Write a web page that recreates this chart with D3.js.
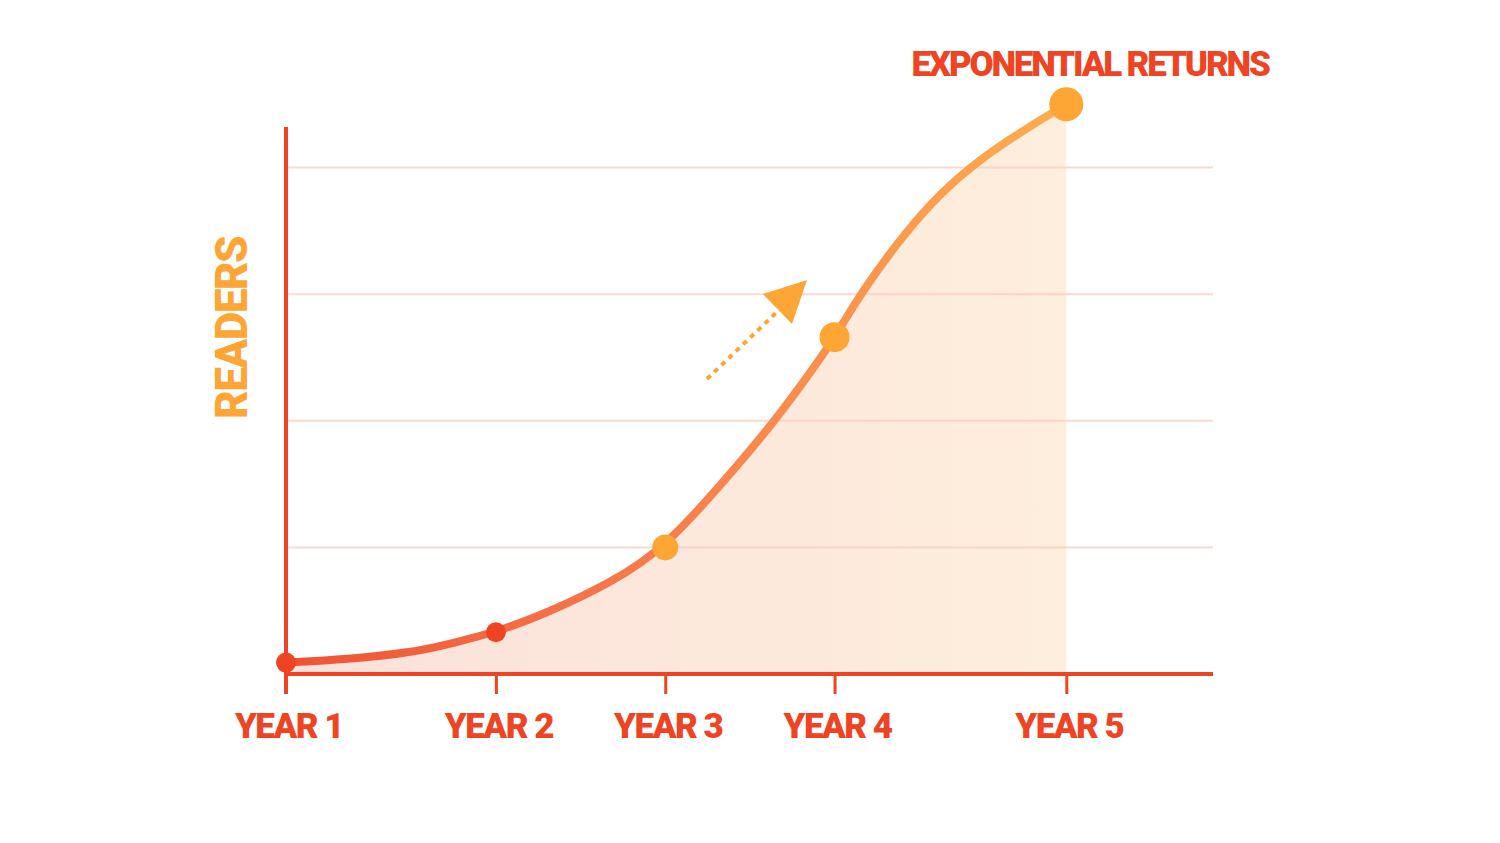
<!DOCTYPE html>
<html>
<head>
<meta charset="utf-8">
<script src="https://cdn.jsdelivr.net/npm/d3@7"></script>
<style>
  html, body { margin: 0; padding: 0; background: #fff; }
  svg text { font-family: Roboto, "Liberation Sans", sans-serif; font-weight: 900; }
</style>
</head>
<body>
<div class="chart"></div>
<script>
// data
const categories = ['YEAR 1', 'YEAR 2', 'YEAR 3', 'YEAR 4', 'YEAR 5'];
const xValues = [0, 2.69, 4.86, 7.03, 10];
const readers = [0.09, 0.33, 1.0, 2.66, 4.5];
const dotSizes = [10, 10, 13, 15, 17];
// the drawn curve, read at more places along the line
const curveX = [0, 0.78, 1.63, 2.14, 2.69, 3.35, 4.19, 4.86, 5.63, 6.27, 6.81, 7.03, 7.40, 7.83, 8.26, 8.77, 9.32, 10];
const curveY = [0.09, 0.115, 0.17, 0.245, 0.33, 0.482, 0.727, 1.0, 1.534, 2.0, 2.458, 2.66, 3.036, 3.40, 3.72, 4.008, 4.245, 4.5];
const gridValues = [1, 2, 3, 4];

const width = 1500, height = 843;
const red = '#ef4423', orange = '#fda535';

const svg = d3.select('.chart').append('svg')
  .attr('width', width)
  .attr('height', height);

const x = d3.scaleLinear().domain([0, 11.88]).range([286, 1213]);
const y = d3.scaleLinear().domain([0, 4.32]).range([674, 127]);

const points = categories.map((c, i) => ({ cat: c, x: xValues[i], v: readers[i], r: dotSizes[i] }));
const curve = curveX.map((cx, i) => ({ x: cx, v: curveY[i] }));

let defs = svg.append('defs');
let lg = defs.append('linearGradient').attr('id', 'lineGrad')
  .attr('gradientUnits', 'userSpaceOnUse')
  .attr('x1', x(0)).attr('x2', x(10)).attr('y1', 0).attr('y2', 0);
lg.append('stop').attr('offset', '0%').attr('stop-color', '#ef5233');
lg.append('stop').attr('offset', '45%').attr('stop-color', '#f57a4c');
lg.append('stop').attr('offset', '100%').attr('stop-color', '#fdae4e');

let ag = defs.append('linearGradient').attr('id', 'areaGrad')
  .attr('gradientUnits', 'userSpaceOnUse')
  .attr('x1', x(0)).attr('x2', x(10)).attr('y1', 0).attr('y2', 0);
ag.append('stop').attr('offset', '0%').attr('stop-color', '#fbe0da');
ag.append('stop').attr('offset', '100%').attr('stop-color', '#feeedd');

// area under the curve
const area = d3.area()
  .x(d => x(d.x))
  .y0(y(0))
  .y1(d => y(d.v))
  .curve(d3.curveBasis);

svg.append('path')
  .datum(curve)
  .attr('d', area)
  .attr('fill', 'url(#areaGrad)');

// gridlines
svg.selectAll('.grid')
  .data(gridValues)
  .enter()
  .append('line')
  .attr('x1', x(0)).attr('x2', x(11.88))
  .attr('y1', d => y(d)).attr('y2', d => y(d))
  .attr('stroke', '#f9c9bf')
  .attr('stroke-opacity', 0.7)
  .attr('stroke-width', 2);

// axes
const xAxis = d3.axisBottom(x)
  .tickValues(xValues)
  .tickSize(20)
  .tickFormat('');

let gx = svg.append('g')
  .attr('transform', `translate(0,${y(0)})`)
  .call(xAxis);
gx.select('.domain').remove();
gx.selectAll('.tick line').attr('stroke', red).attr('stroke-width', 3);

svg.append('line')
  .attr('x1', x(0) - 1.5).attr('x2', x(11.88))
  .attr('y1', y(0)).attr('y2', y(0))
  .attr('stroke', red).attr('stroke-width', 4);

svg.append('line')
  .attr('x1', x(0)).attr('x2', x(0))
  .attr('y1', y(4.32)).attr('y2', y(0) + 20)
  .attr('stroke', red).attr('stroke-width', 4);

svg.selectAll('.xlabel')
  .data(points)
  .enter()
  .append('text')
  .attr('x', d => x(d.x) + 3)
  .attr('y', 738)
  .attr('text-anchor', 'middle')
  .attr('fill', red)
  .attr('font-size', 35)
  .attr('letter-spacing', -1.5)
  .text(d => d.cat);

// curve
const line = d3.line()
  .x(d => x(d.x))
  .y(d => y(d.v))
  .curve(d3.curveBasis);

svg.append('path')
  .datum(curve)
  .attr('d', line)
  .attr('fill', 'none')
  .attr('stroke', 'url(#lineGrad)')
  .attr('stroke-width', 8)
  .attr('stroke-linecap', 'round');

// dots
svg.selectAll('.dot')
  .data(points)
  .enter()
  .append('circle')
  .attr('cx', d => x(d.x))
  .attr('cy', d => y(d.v))
  .attr('r', d => d.r)
  .attr('fill', (d, i) => i < 2 ? red : orange);

// dotted arrow
svg.append('line')
  .attr('x1', 707).attr('y1', 379)
  .attr('x2', 778).attr('y2', 311)
  .attr('stroke', orange)
  .attr('stroke-width', 4)
  .attr('stroke-dasharray', '5,5');

svg.append('path')
  .attr('d', 'M763,294 L807,280 L792,324 Z')
  .attr('fill', orange);

// labels
svg.append('text')
  .attr('x', 1090)
  .attr('y', 76)
  .attr('text-anchor', 'middle')
  .attr('fill', red)
  .attr('font-size', 35)
  .attr('letter-spacing', -2.2)
  .text('EXPONENTIAL RETURNS');

svg.append('text')
  .attr('transform', 'translate(247,328) rotate(-90)')
  .attr('text-anchor', 'middle')
  .attr('fill', orange)
  .attr('font-size', 44)
  .attr('letter-spacing', -1.5)
  .text('READERS');
</script>
</body>
</html>
